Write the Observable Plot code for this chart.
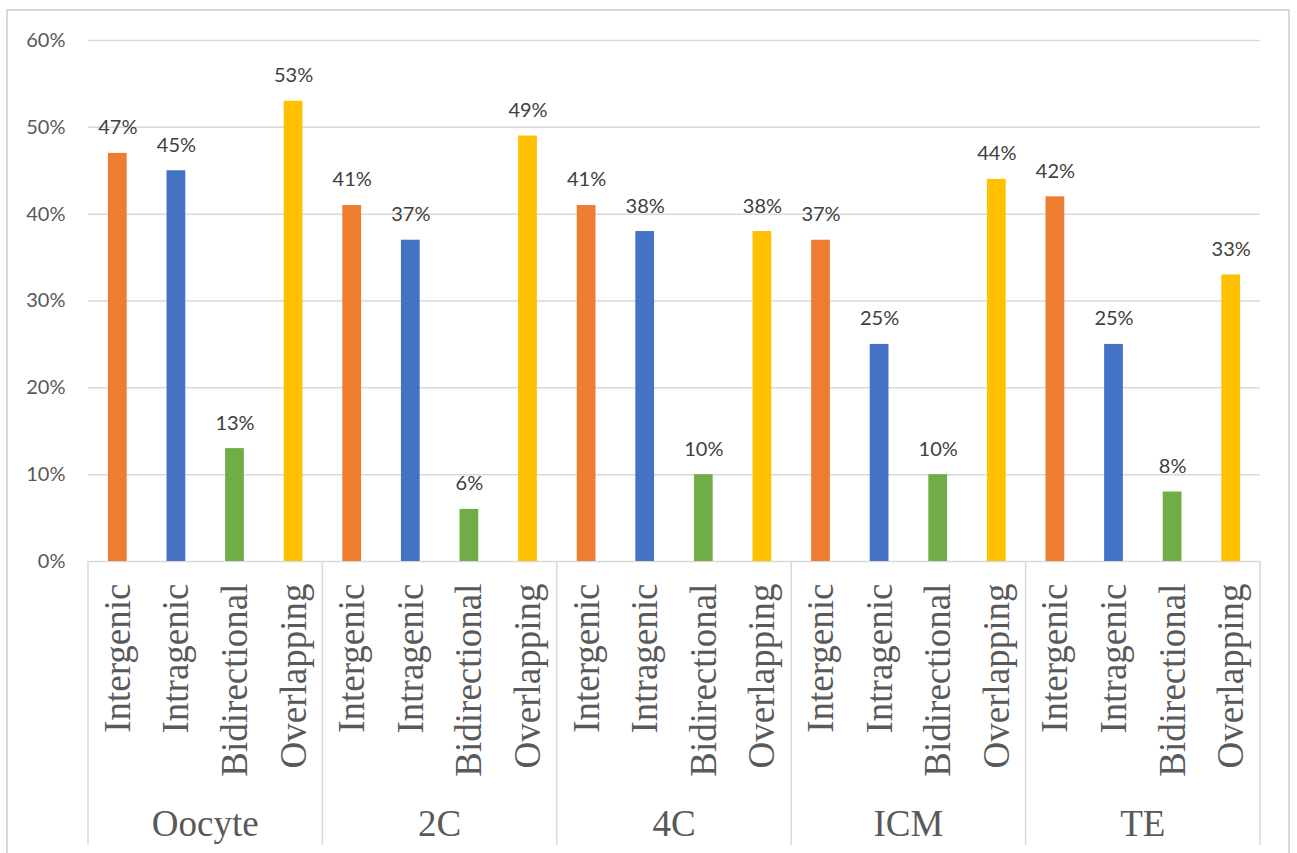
<!DOCTYPE html>
<html>
<head>
<meta charset="utf-8">
<script src="https://cdn.jsdelivr.net/npm/d3@7"></script>
<script src="https://cdn.jsdelivr.net/npm/@observablehq/plot@0.6"></script>
<style>
  html, body { margin: 0; padding: 0; background: #fff; overflow: hidden; }
  #chart {
    position: absolute; left: 6px; top: 9px;
    width: 1280px; height: 860px;
    border: 2px solid #d9d9d9; background: #fff;
  }
  #chart svg { display: block; }
</style>
</head>
<body>
<div id="chart"></div>
<script>
// Stages and locus types
const groups = ["Oocyte", "2C", "4C", "ICM", "TE"];
const types = ["Intergenic", "Intragenic", "Bidirectional", "Overlapping"];

// Share of loci per type (%), one value per stage
const intergenic    = [47, 41, 41, 37, 42];
const intragenic    = [45, 37, 38, 25, 25];
const bidirectional = [13,  6, 10, 10,  8];
const overlapping   = [53, 49, 38, 44, 33];

const yTicks = [0, 10, 20, 30, 40, 50, 60];
const colors = ["#ED7D31", "#4472C4", "#70AD47", "#FFC000"];

const seriesByType = [intergenic, intragenic, bidirectional, overlapping];
const rows = [];
groups.forEach((g, gi) => {
  types.forEach((t, ti) => {
    rows.push({group: g, type: t, key: g + "|" + t, value: seriesByType[ti][gi]});
  });
});
const keys = rows.map(d => d.key);

const PAD_INNER = 0.68;
const PAD_OUTER = PAD_INNER / 2;

const gray = "#d9d9d9";
const labelColor = "#595959";
const serif = "'Liberation Serif', 'Times New Roman', serif";
const sans = "Lato, Calibri, 'Open Sans', sans-serif";

// Multi-level category axis: group separators and stage names
function groupAxis(index, scales, values, dimensions) {
  const sx = scales.x, sy = scales.y;
  const step = sx(keys[1]) - sx(keys[0]);
  const bw = typeof sx.bandwidth === "function" ? sx.bandwidth() : step * (1 - PAD_INNER);
  const offset = (step - bw) / 2;
  const y0 = sy(0);
  const yEnd = dimensions.height - 9;
  const g = d3.create("svg:g");
  const bounds = groups.map(gr => sx(gr + "|" + types[0]) - offset);
  bounds.push(sx(keys[keys.length - 1]) + bw + offset);
  g.selectAll("line").data(bounds).join("line")
    .attr("x1", d => d).attr("x2", d => d)
    .attr("y1", y0).attr("y2", yEnd)
    .attr("stroke", gray).attr("stroke-width", 1.5);
  g.selectAll("text").data(groups).join("text")
    .attr("x", (d, i) => (bounds[i] + bounds[i + 1]) / 2)
    .attr("y", dimensions.height - 18)
    .attr("text-anchor", "middle")
    .attr("font-family", serif)
    .attr("font-size", 37)
    .attr("fill", labelColor)
    .text(d => d);
  return g.node();
}

const chart = Plot.plot({
  width: 1280,
  height: 843,
  marginLeft: 80,
  marginRight: 28,
  marginTop: 29,
  marginBottom: 293,
  style: {background: "#fff", overflow: "visible"},
  x: {domain: keys, paddingInner: PAD_INNER, paddingOuter: PAD_OUTER, round: false, axis: null},
  y: {domain: [0, 60], axis: null},
  color: {domain: types, range: colors},
  marks: [
    Plot.ruleY(yTicks, {stroke: gray, strokeWidth: 1.5}),
    Plot.barY(rows, {x: "key", y: "value", fill: "type"}),
    Plot.text(rows, {
      x: "key", y: "value", text: d => d.value + "%",
      lineAnchor: "bottom", dy: -19,
      fontFamily: sans, fontSize: 20, fill: "#404040"
    }),
    Plot.text(yTicks, {
      y: d => d, text: d => d + "%",
      frameAnchor: "left", textAnchor: "end", dx: -23,
      fontFamily: sans, fontSize: 20, fill: labelColor
    }),
    Plot.text(rows, {
      x: "key", text: "type",
      frameAnchor: "bottom", rotate: -90, textAnchor: "end", dx: 12, dy: 22,
      fontFamily: serif, fontSize: 37, fill: labelColor
    }),
    groupAxis
  ]
});

document.getElementById("chart").appendChild(chart);
</script>
</body>
</html>
